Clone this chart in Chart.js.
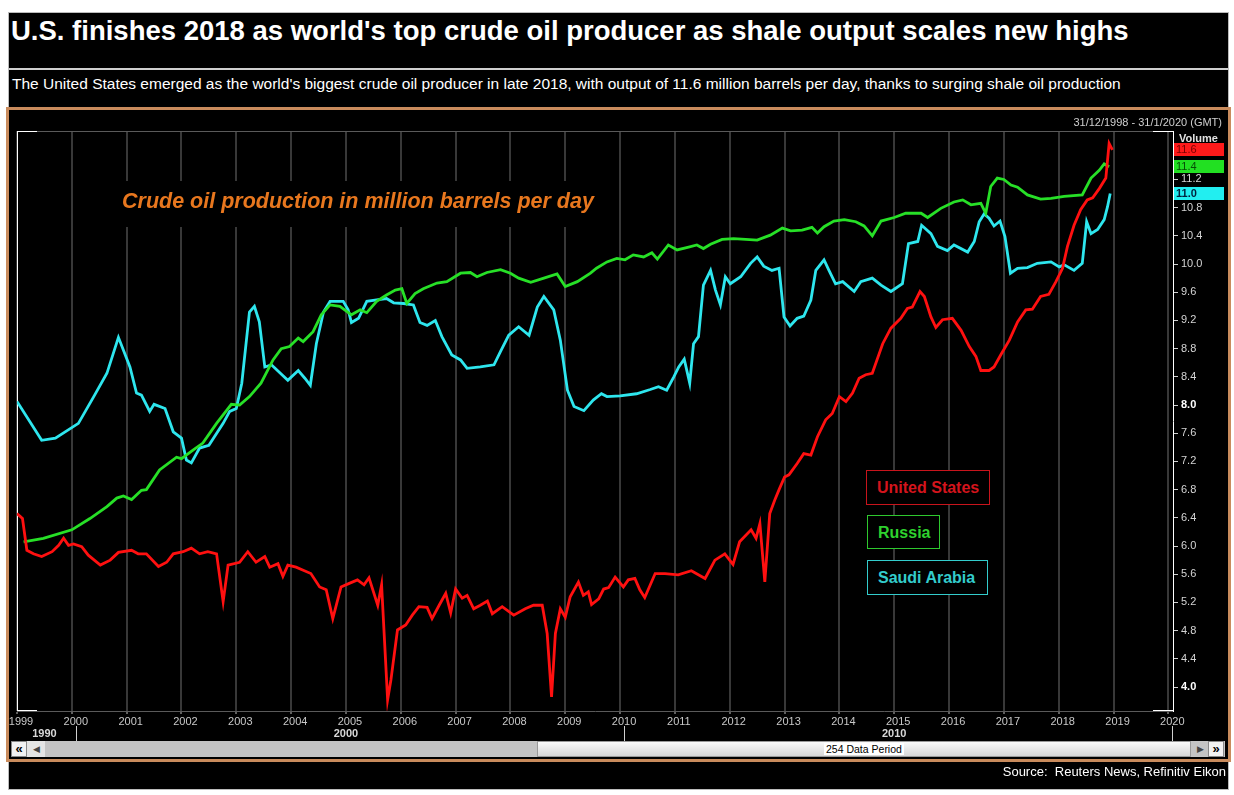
<!DOCTYPE html>
<html>
<head>
<meta charset="utf-8">
<script src="https://cdn.jsdelivr.net/npm/chart.js@4.4.1/dist/chart.umd.min.js"></script>
<style>
  body { margin: 0; background: #fff; width: 1234px; height: 795px; position: relative; overflow: hidden;
         font-family: 'Liberation Sans', Arial, sans-serif; }
  .abs { position: absolute; }
  #panel { left: 8px; top: 12px; width: 1219px; height: 776px; background: #000; border: 1px solid #bbb; }
  #title { left: 11px; top: 15px; color: #fff; font-weight: bold; font-size: 27.5px; line-height: 32px; white-space: nowrap; }
  #rule { left: 9px; top: 68px; width: 1219px; height: 2px; background: #cfcfcf; }
  #sub { left: 12px; top: 74px; color: #fff; font-size: 15.5px; line-height: 20px; white-space: nowrap; }
  #frame { left: 6px; top: 107px; width: 1219px; height: 649px; border: 3px solid #c98b5c; }
  #chart { left: 0; top: 0; z-index: 1; }
  #range { right: 12px; top: 116px; color: #cfcfcf; font-size: 11px; z-index: 2; }
  #volume { left: 1179px; top: 132px; color: #e0e0e0; font-size: 11px; font-weight: bold; z-index: 2; }
  #note { left: 122px; top: 189px; color: #e8771e; font-size: 21.5px; font-weight: bold; font-style: italic; z-index: 2; white-space: nowrap; }
  .leg { background: #000; font-size: 16px; font-weight: bold; z-index: 2; box-sizing: border-box;
         border: 1px solid; line-height: 33px; padding-left: 10px; white-space: nowrap; }
  #sb { left: 11px; top: 741px; width: 1214px; height: 16px; background: #c4c4c4; z-index: 2; }
  .btn { top: 0; width: 14px; height: 14px; background: #f2f2f2; border: 1px solid #888; font-size: 13px;
         font-weight: bold; line-height: 13px; text-align: center; color: #000; }
  #thumb { left: 526px; top: 0; width: 652px; height: 14px; border: 1px solid #999;
           background: linear-gradient(#fafafa, #d6d6d6); }
  #thumb span { position: absolute; left: 286px; top: 1px; background: #fff; font-size: 10.5px; line-height: 12px; padding: 0 2px; color: #000; }
  #source { right: 8px; top: 764px; color: #fff; font-size: 13px; z-index: 2; white-space: nowrap; }
</style>
</head>
<body>
<div id="panel" class="abs"></div>
<div id="title" class="abs">U.S. finishes 2018 as world's top crude oil producer as shale output scales new highs</div>
<div id="rule" class="abs"></div>
<div id="sub" class="abs">The United States emerged as the world's biggest crude oil producer in late 2018, with output of 11.6 million barrels per day, thanks to surging shale oil production</div>
<div id="frame" class="abs"></div>
<canvas id="chart" class="abs" width="1234" height="795"></canvas>
<div id="range" class="abs">31/12/1998 - 31/1/2020 (GMT)</div>
<div id="volume" class="abs">Volume</div>
<div id="note" class="abs">Crude oil production in million barrels per day</div>
<div class="abs leg" style="left:866px;top:470px;width:124px;height:35px;color:#d4141c;border-color:#c8141c">United States</div>
<div class="abs leg" style="left:867px;top:515px;width:73px;height:34px;color:#2ed12e;border-color:#2ec82e">Russia</div>
<div class="abs leg" style="left:867px;top:560px;width:121px;height:35px;color:#33cccc;border-color:#33cccc">Saudi Arabia</div>
<div id="sb" class="abs">
  <div class="abs btn" style="left:0">&laquo;</div>
  <div class="abs" style="left:16px;top:0;width:18px;height:16px;background:#e4e4e4;font-size:9px;line-height:16px;text-align:center;color:#444">&#9664;</div>
  <div id="thumb" class="abs"><span>254 Data Period</span></div>
  <div class="abs" style="left:1182px;top:0;width:14px;height:16px;font-size:9px;line-height:16px;text-align:center;color:#444">&#9654;</div>
  <div class="abs btn" style="left:1197px">&raquo;</div>
</div>
<div id="source" class="abs">Source:&nbsp; Reuters News, Refinitiv Eikon</div>

<script>
// time in decimal years, values in million barrels per day
const usYears = [1999.00,1999.10,1999.18,1999.30,1999.45,1999.64,1999.76,1999.85,1999.94,2000.03,2000.18,2000.30,2000.52,2000.70,2000.85,
  2001.09,2001.21,2001.36,2001.58,2001.73,2001.85,2002.03,2002.18,2002.33,2002.48,2002.64,2002.76,2002.85,2003.06,2003.21,2003.36,
  2003.52,2003.61,2003.76,2003.85,2003.94,2004.09,2004.21,2004.36,2004.52,2004.64,2004.76,2004.91,2005.06,2005.21,2005.33,2005.42,
  2005.58,2005.65,2005.76,2005.82,2005.94,2006.09,2006.21,2006.33,2006.48,2006.57,2006.70,2006.82,2006.91,2007.00,2007.12,2007.21,
  2007.33,2007.45,2007.58,2007.67,2007.85,2008.06,2008.27,2008.42,2008.58,2008.67,2008.75,2008.82,2008.91,2009.00,2009.09,2009.24,
  2009.33,2009.42,2009.48,2009.61,2009.70,2009.79,2009.91,2010.06,2010.15,2010.27,2010.36,2010.45,2010.64,2010.82,2011.06,2011.30,
  2011.55,2011.73,2011.91,2012.06,2012.18,2012.39,2012.48,2012.55,2012.64,2012.73,2012.82,2012.90,2013.00,2013.08,2013.23,2013.35,
  2013.48,2013.60,2013.75,2013.87,2014.00,2014.12,2014.24,2014.36,2014.48,2014.60,2014.79,2014.94,2015.12,2015.24,2015.33,2015.47,
  2015.55,2015.67,2015.76,2015.88,2016.06,2016.22,2016.37,2016.49,2016.58,2016.73,2016.82,2016.95,2017.10,2017.25,2017.40,2017.52,
  2017.67,2017.82,2017.95,2018.07,2018.16,2018.28,2018.40,2018.52,2018.62,2018.74,2018.86,2018.92,2018.98];
const usValues = [6.46,6.39,5.94,5.89,5.85,5.92,6.01,6.11,6.01,6.03,5.99,5.87,5.73,5.80,5.91,
  5.94,5.89,5.89,5.71,5.77,5.89,5.92,5.97,5.89,5.92,5.89,5.21,5.73,5.77,5.92,5.77,
  5.85,5.70,5.75,5.57,5.73,5.70,5.66,5.61,5.42,5.38,4.97,5.42,5.47,5.52,5.45,5.55,
  5.16,5.45,3.82,4.10,4.81,4.88,5.02,5.14,5.13,4.97,5.16,5.33,5.05,5.39,5.26,5.30,
  5.11,5.16,5.22,5.04,5.14,5.02,5.11,5.16,5.16,4.76,3.86,4.76,5.11,4.99,5.28,5.49,
  5.30,5.35,5.17,5.25,5.39,5.41,5.56,5.42,5.52,5.54,5.38,5.27,5.61,5.61,5.59,5.65,
  5.54,5.80,5.89,5.74,6.06,6.23,6.11,6.32,5.49,6.46,6.65,6.80,6.98,7.01,7.17,7.31,
  7.29,7.55,7.79,7.88,8.12,8.05,8.17,8.38,8.43,8.45,8.87,9.09,9.23,9.37,9.39,9.61,
  9.54,9.25,9.10,9.21,9.23,9.06,8.83,8.69,8.49,8.49,8.54,8.72,8.92,9.18,9.35,9.36,
  9.54,9.57,9.75,9.94,10.25,10.55,10.77,10.91,10.94,11.07,11.22,11.71,11.62];

const ruYears = [1999.12,1999.48,2000.00,2000.33,2000.64,2000.82,2000.94,2001.09,2001.27,2001.36,2001.60,2001.91,2002.00,2002.21,2002.39,
  2002.64,2002.91,2003.06,2003.24,2003.45,2003.67,2003.82,2003.97,2004.13,2004.22,2004.40,2004.55,2004.71,2004.89,2005.10,2005.26,
  2005.38,2005.56,2005.74,2005.90,2006.02,2006.11,2006.26,2006.41,2006.66,2006.84,2007.09,2007.27,2007.39,2007.57,2007.82,2008.00,
  2008.15,2008.37,2008.61,2008.85,2009.00,2009.22,2009.46,2009.57,2009.76,2009.94,2010.09,2010.24,2010.43,2010.58,2010.68,2010.88,
  2011.04,2011.25,2011.40,2011.52,2011.65,2011.86,2012.07,2012.29,2012.50,2012.74,2012.96,2013.11,2013.32,2013.50,2013.60,2013.72,
  2013.90,2014.09,2014.30,2014.45,2014.60,2014.76,2015.00,2015.21,2015.49,2015.61,2015.85,2016.09,2016.25,2016.40,2016.58,2016.67,
  2016.76,2016.88,2017.00,2017.13,2017.25,2017.43,2017.67,2017.86,2018.10,2018.43,2018.59,2018.74,2018.83,2018.92];
const ruValues = [6.06,6.11,6.23,6.39,6.56,6.68,6.71,6.66,6.79,6.80,7.08,7.26,7.24,7.36,7.46,
  7.74,8.01,8.00,8.12,8.31,8.64,8.80,8.83,8.95,8.90,9.04,9.28,9.42,9.40,9.28,9.35,
  9.31,9.47,9.56,9.63,9.65,9.44,9.58,9.65,9.73,9.75,9.87,9.88,9.82,9.88,9.92,9.87,
  9.80,9.74,9.80,9.86,9.68,9.75,9.87,9.94,10.03,10.08,10.06,10.13,10.10,10.16,10.07,10.27,
  10.20,10.24,10.27,10.22,10.28,10.35,10.36,10.35,10.34,10.41,10.51,10.47,10.48,10.52,10.44,10.53,
  10.61,10.63,10.60,10.54,10.40,10.61,10.66,10.72,10.72,10.66,10.79,10.88,10.91,10.84,10.86,10.72,
  11.10,11.22,11.20,11.12,11.09,10.98,10.92,10.93,10.96,10.98,11.22,11.33,11.42,11.38];

const saYears = [1999.00,1999.45,1999.70,2000.12,2000.40,2000.64,2000.85,2001.06,2001.18,2001.27,2001.42,2001.50,2001.70,2001.85,2002.00,
  2002.09,2002.18,2002.33,2002.50,2002.76,2002.88,2003.00,2003.10,2003.24,2003.33,2003.42,2003.52,2003.64,2003.94,2004.13,2004.25,
  2004.35,2004.46,2004.59,2004.71,2004.95,2005.04,2005.10,2005.23,2005.38,2005.56,2005.74,2005.87,2006.05,2006.23,2006.35,2006.48,
  2006.63,2006.75,2006.93,2007.09,2007.21,2007.45,2007.70,2007.82,2007.97,2008.15,2008.34,2008.49,2008.61,2008.79,2008.91,2009.04,
  2009.16,2009.34,2009.51,2009.66,2009.76,2010.00,2010.30,2010.55,2010.70,2010.85,2010.98,2011.07,2011.17,2011.27,2011.34,2011.43,
  2011.52,2011.65,2011.74,2011.83,2011.92,2012.01,2012.20,2012.38,2012.50,2012.62,2012.77,2012.90,2012.99,2013.10,2013.23,2013.35,
  2013.48,2013.57,2013.72,2013.81,2013.93,2014.06,2014.27,2014.39,2014.60,2014.76,2014.94,2015.15,2015.26,2015.43,2015.50,2015.67,
  2015.79,2015.97,2016.09,2016.34,2016.46,2016.55,2016.64,2016.73,2016.82,2016.93,2017.02,2017.12,2017.25,2017.43,2017.61,2017.86,
  2018.01,2018.10,2018.28,2018.43,2018.51,2018.59,2018.71,2018.83,2018.89,2018.94];
const saValues = [8.05,7.50,7.53,7.74,8.12,8.45,8.96,8.54,8.17,8.14,7.91,8.01,7.95,7.62,7.53,
  7.22,7.18,7.39,7.43,7.74,7.91,7.95,8.31,9.32,9.40,9.18,8.54,8.57,8.35,8.49,8.38,
  8.28,8.87,9.32,9.47,9.47,9.35,9.17,9.23,9.47,9.49,9.51,9.45,9.44,9.42,9.17,9.13,
  9.20,8.97,8.71,8.64,8.52,8.54,8.57,8.76,8.99,9.11,8.99,9.39,9.54,9.35,8.92,8.21,
  7.98,7.92,8.07,8.16,8.12,8.13,8.16,8.22,8.26,8.21,8.40,8.54,8.65,8.31,8.87,8.97,
  9.70,9.91,9.63,9.42,9.82,9.72,9.82,10.01,10.10,9.97,9.91,9.94,9.25,9.12,9.23,9.26,
  9.49,9.91,10.06,9.91,9.72,9.75,9.61,9.75,9.80,9.70,9.61,9.72,10.29,10.32,10.55,10.43,
  10.25,10.19,10.27,10.17,10.32,10.60,10.71,10.65,10.54,10.61,10.39,9.87,9.94,9.95,10.01,10.03,
  9.96,9.99,9.91,10.01,10.60,10.43,10.49,10.63,10.81,11.00];

const yearTicks = [1999,2000,2001,2002,2003,2004,2005,2006,2007,2008,2009,2010,2011,2012,2013,2014,2015,2016,2017,2018,2019,2020];
const yTickLabels = [4.0,4.4,4.8,5.2,5.6,6.0,6.4,6.8,7.2,7.6,8.0,8.4,8.8,9.2,9.6,10.0,10.4,10.8,11.2,11.6];
const decadeLabels = ['1990','2000','2010'];
const decadeStarts = [1990,2000,2010];
const boldTicks = [4.0, 8.0];

const font = "'Liberation Sans', Arial, sans-serif";

function points(xs, ys) {
  return xs.map((x, i) => ({ x: x, y: ys[i] }));
}

function isBold(c) {
  return !!(c && c.tick && boldTicks.includes(c.tick.value));
}

const series = [
  { label: 'United States', data: points(usYears, usValues), color: '#ff1010', box: '#ff1a1a', text: '#7a0000', bold: false },
  { label: 'Russia', data: points(ruYears, ruValues), color: '#27e027', box: '#22e022', text: '#064d06', bold: false },
  { label: 'Saudi Arabia', data: points(saYears, saValues), color: '#2ee6ee', box: '#22eef0', text: '#00203c', bold: true }
];

const decor = {
  id: 'decor',
  beforeDatasetsDraw(chart) {
    const ctx = chart.ctx, a = chart.chartArea;
    ctx.save();
    // gap in the grid behind the annotation
    ctx.fillStyle = '#000';
    ctx.fillRect(108, 181, 494, 46);
    ctx.lineWidth = 1;
    ctx.strokeStyle = '#5a5a5a';
    ctx.beginPath();
    ctx.moveTo(a.left, a.top + 0.5); ctx.lineTo(a.right, a.top + 0.5);
    ctx.stroke();
    ctx.strokeStyle = '#ffffff';
    ctx.beginPath();
    ctx.moveTo(a.left + 0.5, a.top); ctx.lineTo(a.left + 0.5, a.bottom);
    ctx.moveTo(a.left, a.top + 0.5); ctx.lineTo(a.left + 20, a.top + 0.5);
    ctx.moveTo(a.right - 20, a.top + 0.5); ctx.lineTo(a.right, a.top + 0.5);
    ctx.moveTo(a.left, a.bottom - 0.5); ctx.lineTo(a.left + 20, a.bottom - 0.5);
    ctx.moveTo(a.right - 20, a.bottom - 0.5); ctx.lineTo(a.right, a.bottom - 0.5);
    ctx.stroke();
    ctx.restore();
  },
  afterDraw(chart) {
    const ctx = chart.ctx, a = chart.chartArea;
    const xs = chart.scales.x, ys = chart.scales.y;
    ctx.save();
    // last-value boxes on the right axis
    series.forEach(s => {
      const last = s.data[s.data.length - 1].y;
      const py = Math.round(ys.getPixelForValue(last));
      ctx.fillStyle = s.box;
      ctx.fillRect(a.right + 1, py - 7, 50, 13);
      ctx.fillStyle = s.text;
      ctx.font = (s.bold ? 'bold ' : '') + '11px ' + font;
      ctx.textBaseline = 'middle';
      ctx.textAlign = 'left';
      ctx.fillText(last.toFixed(1), a.right + 3, py);
    });
    // decade row under the year labels
    const rowY = 734;
    ctx.strokeStyle = '#d0d0d0';
    ctx.lineWidth = 1;
    ctx.fillStyle = '#d8d8d8';
    ctx.font = 'bold 11px ' + font;
    ctx.textAlign = 'center';
    ctx.textBaseline = 'middle';
    decadeStarts.forEach((d, i) => {
      const from = Math.max(d, xs.min), to = Math.min(d + 10, xs.max);
      ctx.fillText(decadeLabels[i], xs.getPixelForValue((from + to) / 2), rowY);
      if (d + 10 <= xs.max + 0.01) {
        const px = Math.round(xs.getPixelForValue(d + 10)) + 4.5;
        ctx.beginPath(); ctx.moveTo(px, 726); ctx.lineTo(px, 741); ctx.stroke();
      }
    });
    ctx.restore();
  }
};

new Chart(document.getElementById('chart'), {
  type: 'line',
  data: {
    datasets: series.map(s => ({
      label: s.label,
      data: s.data,
      borderColor: s.color,
      borderWidth: 2.8,
      pointRadius: 0,
      tension: 0,
      fill: false
    }))
  },
  options: {
    responsive: false,
    animation: false,
    devicePixelRatio: 1,
    layout: { padding: { left: 17, top: 131, right: 11, bottom: 62 } },
    plugins: { legend: { display: false }, tooltip: { enabled: false } },
    scales: {
      x: {
        type: 'linear',
        min: 1999.0,
        max: 2020.085,
        afterBuildTicks: s => { s.ticks = yearTicks.map(v => ({ value: v })); },
        afterFit: s => { s.height = 22; },
        grid: { color: '#383838', lineWidth: 2, tickColor: '#bdbdbd', tickWidth: 1, tickLength: 3 },
        border: { color: '#5a5a5a', width: 1 },
        ticks: {
          color: '#c8c8c8',
          font: { family: font, size: 11 },
          padding: 1,
          labelOffset: 4,
          maxRotation: 0,
          autoSkip: false,
          callback: v => String(v)
        }
      },
      y: {
        type: 'linear',
        position: 'right',
        min: 3.66,
        max: 11.887,
        afterBuildTicks: s => { s.ticks = yTickLabels.map(v => ({ value: v })); },
        afterFit: s => { s.width = 50; },
        grid: { drawOnChartArea: false, tickColor: '#d0d0d0', tickLength: 5, tickWidth: 1 },
        border: { color: '#ffffff', width: 1 },
        ticks: {
          padding: 3,
          autoSkip: false,
          color: c => isBold(c) ? '#ffffff' : '#d4d4d4',
          font: c => ({ family: font, size: 11, weight: isBold(c) ? 'bold' : 'normal' }),
          callback: v => Number(v).toFixed(1)
        }
      }
    }
  },
  plugins: [decor]
});
</script>
</body>
</html>
